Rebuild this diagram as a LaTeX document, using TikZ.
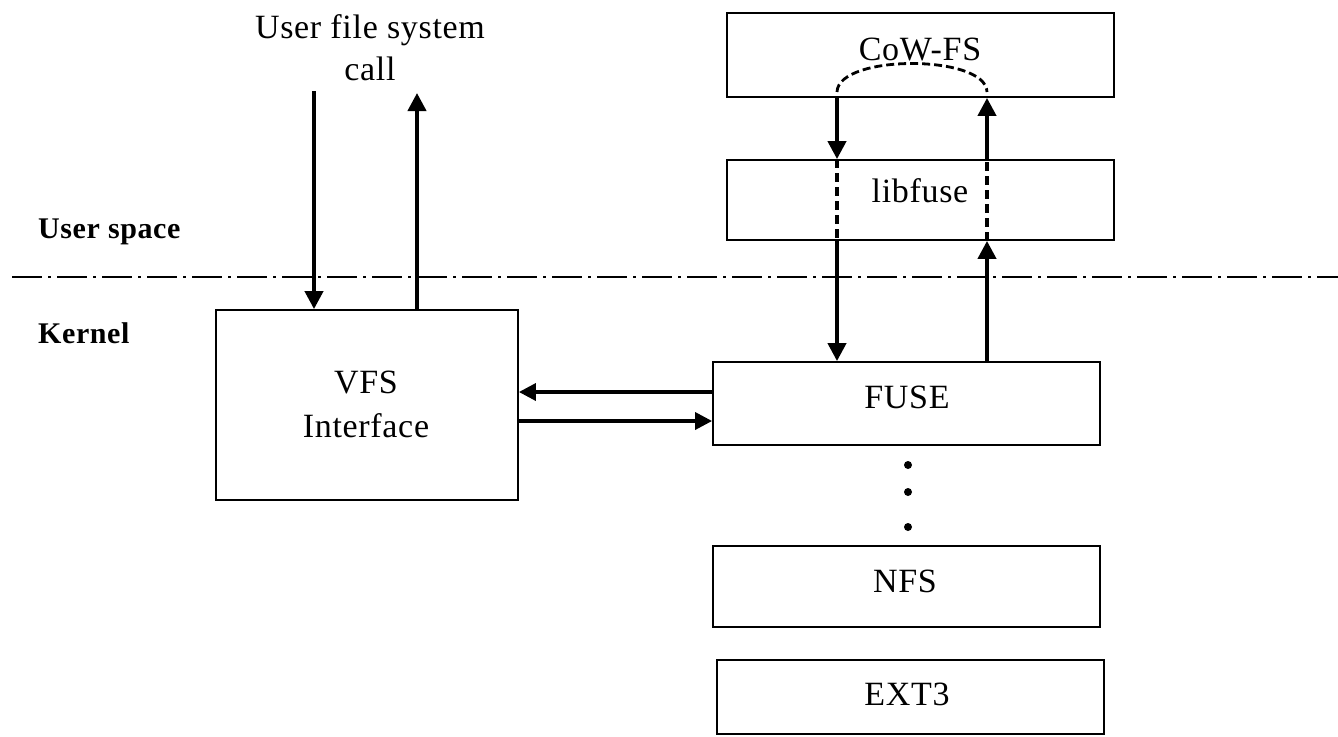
\documentclass[tikz,border=0pt]{standalone}
\usepackage{fontspec}
\setmainfont{Liberation Serif}[LetterSpace=2]
\usetikzlibrary{arrows.meta}
\begin{document}
\begin{tikzpicture}[x=1pt,y=-1pt,
  txt/.style={font=\fontsize{34}{44}\selectfont, inner sep=0pt, anchor=base},
  bld/.style={font=\fontsize{30}{40}\selectfont\bfseries, inner sep=0pt, anchor=base west},
  box/.style={draw, line width=1.8pt, rectangle, inner sep=0pt},
  arr/.style={line width=4pt, -{Triangle[length=18pt,width=18pt]}},
  harr/.style={line width=3.4pt, -{Triangle[length=17pt,width=17pt]}},
  dsh/.style={line width=3.6pt, dash pattern=on 9pt off 5pt},
  arc/.style={line width=2.8pt, dash pattern=on 8pt off 4pt},
  divider/.style={line width=2.6pt, dash pattern=on 30pt off 6pt on 3pt off 6pt},
  dot/.style={circle, fill, inner sep=0pt, minimum size=8pt}]
\useasboundingbox (0,0) rectangle (1338,736);

% boxes
\node[box, minimum width=387pt, minimum height=84pt] (cow)  at (920.5,55)  {};
\node[box, minimum width=387pt, minimum height=80pt] (lib)  at (920.5,200) {};
\node[box, minimum width=387pt, minimum height=83pt] (fuse) at (906.5,403.5) {};
\node[box, minimum width=387pt, minimum height=81pt] (nfs)  at (906.5,586.5) {};
\node[box, minimum width=387pt, minimum height=74pt] (ext)  at (910.5,697) {};
\node[box, minimum width=302pt, minimum height=190pt] (vfs) at (367,405) {};

% box captions
\node[txt] (cowT)  at (920,60)  {CoW-FS};
\node[txt] (libT)  at (920,202) {libfuse};
\node[txt] (fuseT) at (907,408) {FUSE};
\node[txt] (nfsT)  at (905,592) {NFS};
\node[txt] (extT)  at (907,705) {EXT3};
\node[txt] (vfsT1) at (366,393) {VFS};
\node[txt] (vfsT2) at (366,437) {Interface};

% labels
\node[txt] (call1) at (370,38) {User file system};
\node[txt] (call2) at (370,80) {call};
\node[bld] (us) at (38,238) {User space};
\node[bld] (kn) at (38,343) {Kernel};

% user/kernel boundary
\coordinate (sepL) at (12,277);
\coordinate (sepR) at (1338,277);
\draw[divider] (sepL) -- (sepR);

% system call arrows
\coordinate (d1) at (314,91);
\coordinate (u1) at (417,93);
\draw[arr] (d1) -- (d1 |- vfs.north);
\draw[arr] (u1 |- vfs.north) -- (u1);

% VFS <-> FUSE
\draw[harr] (fuse.west |- 0,392) -- (vfs.east |- 0,392);
\draw[harr] (vfs.east |- 0,421) -- (fuse.west |- 0,421);

% FUSE request path through libfuse and CoW-FS
\coordinate (xL) at (837,0);
\coordinate (xR) at (987,0);
\draw[arr] (cow.south -| xL) -- (lib.north -| xL);
\draw[dsh] (lib.north -| xL) -- (lib.south -| xL);
\draw[arr] (lib.south -| xL) -- (fuse.north -| xL);
\draw[arr] (fuse.north -| xR) -- (lib.south -| xR);
\draw[dsh] (lib.south -| xR) -- (lib.north -| xR);
\draw[arr] (lib.north -| xR) -- (cow.south -| xR);
\coordinate (aL) at (837,92);
\coordinate (aR) at (987,92);
\draw[arc] (aL) .. controls (838,54) and (986,54) .. (aR);

% ellipsis between FUSE and NFS
\node[dot] (e1) at (908,465) {};
\node[dot] (e2) at (908,492) {};
\node[dot] (e3) at (908,527) {};
\end{tikzpicture}
\end{document}
